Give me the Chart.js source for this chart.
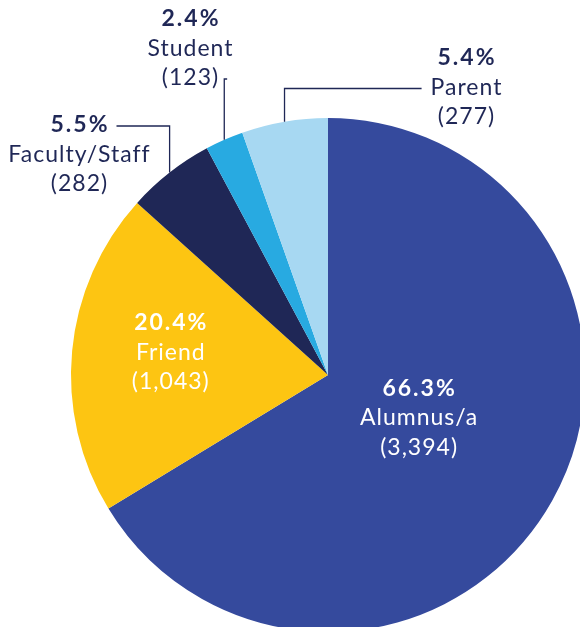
<!DOCTYPE html>
<html>
<head>
<meta charset="utf-8">
<script src="https://cdn.jsdelivr.net/npm/chart.js@4.4.1/dist/chart.umd.min.js"></script>
<style>
  html, body { margin: 0; padding: 0; background: #ffffff; overflow: hidden; width: 580px; height: 627px; }
  #wrap { position: absolute; left: 0; top: 0; width: 600px; height: 650px; }
</style>
</head>
<body>
<div id="wrap"><canvas id="c"></canvas></div>
<script>
// ---- data ----
const categories = ["Alumnus/a", "Friend", "Faculty/Staff", "Student", "Parent"];
const counts = [3394, 1043, 282, 123, 277];
const sliceColors = ["#354A9D", "#FDC512", "#1F2756", "#28AAE1", "#A7D8F2"];

// ---- label layout (styling only) ----
const NAVY = "#1F2756";
const FONT = "Lato, 'Open Sans', sans-serif";
const ROW_GAP = 29.5;
// inside labels: radial factor + angle nudge; outside labels: block center x, first row y, leader row
const labelLayout = [
  { inside: true, k: 0.39, angleShift: -0.07 },
  { inside: true, k: 0.62, angleShift: 0.05 },
  { inside: false, cx: 79, y0: 125, row: 0 },
  { inside: false, cx: 190, y0: 19, row: 2 },
  { inside: false, cx: 466, y0: 58, row: 1 }
];

const total = counts.reduce((a, b) => a + b, 0);
const fmt = n => n.toLocaleString("en-US");

function setFont(ctx, bold) {
  ctx.font = (bold ? "bold 23px " : "23px ") + FONT;
  ctx.letterSpacing = bold ? "2px" : "1px";
  return bold ? 2 : 1;
}

const labelPlugin = {
  id: "sliceLabels",
  afterDatasetsDraw(chart) {
    const ctx = chart.ctx;
    const meta = chart.getDatasetMeta(0);
    ctx.save();
    ctx.textAlign = "center";
    ctx.textBaseline = "middle";
    meta.data.forEach((arc, i) => {
      const p = arc.getProps(["x", "y", "startAngle", "endAngle", "outerRadius"], true);
      const mid = (p.startAngle + p.endAngle) / 2;
      const lay = labelLayout[i];
      const pct = (counts[i] / total * 100).toFixed(1) + "%";
      const rows = [pct, categories[i], "(" + fmt(counts[i]) + ")"];
      let cx, y0, color;
      if (lay.inside) {
        const a = mid + lay.angleShift;
        cx = p.x + Math.cos(a) * p.outerRadius * lay.k;
        const cy = p.y + Math.sin(a) * p.outerRadius * lay.k;
        y0 = cy - ROW_GAP;
        color = "#ffffff";
      } else {
        cx = lay.cx;
        y0 = lay.y0;
        color = NAVY;
      }
      ctx.fillStyle = color;
      rows.forEach((t, r) => {
        const sp = setFont(ctx, r === 0);
        ctx.fillText(t, cx + sp / 2, y0 + r * ROW_GAP);
      });
      if (!lay.inside) {
        // leader line from label row to slice edge at mid angle
        const ax = p.x + Math.cos(mid) * p.outerRadius;
        const ay = p.y + Math.sin(mid) * p.outerRadius;
        const r = lay.row;
        const sp = setFont(ctx, r === 0);
        const w = ctx.measureText(rows[r]).width - sp;
        const ly = y0 + r * ROW_GAP + 1;
        const startX = ax > cx ? cx + w / 2 + 9 : cx - w / 2 - 9;
        ctx.strokeStyle = NAVY;
        ctx.lineWidth = 1.3;
        ctx.beginPath();
        ctx.moveTo(startX, ly);
        ctx.lineTo(ax, ly);
        ctx.lineTo(ax, ay);
        ctx.stroke();
      }
    });
    ctx.restore();
  }
};

new Chart(document.getElementById("c"), {
  type: "pie",
  data: {
    labels: categories,
    datasets: [{
      data: counts,
      backgroundColor: sliceColors,
      borderWidth: 0,
      hoverOffset: 0,
      offset: 0
    }]
  },
  options: {
    responsive: true,
    maintainAspectRatio: false,
    devicePixelRatio: 1,
    animation: false,
    events: [],
    layout: { padding: { left: 71, right: 15, top: 118, bottom: 18 } },
    plugins: { legend: { display: false }, tooltip: { enabled: false } }
  },
  plugins: [labelPlugin]
});
</script>
</body>
</html>
